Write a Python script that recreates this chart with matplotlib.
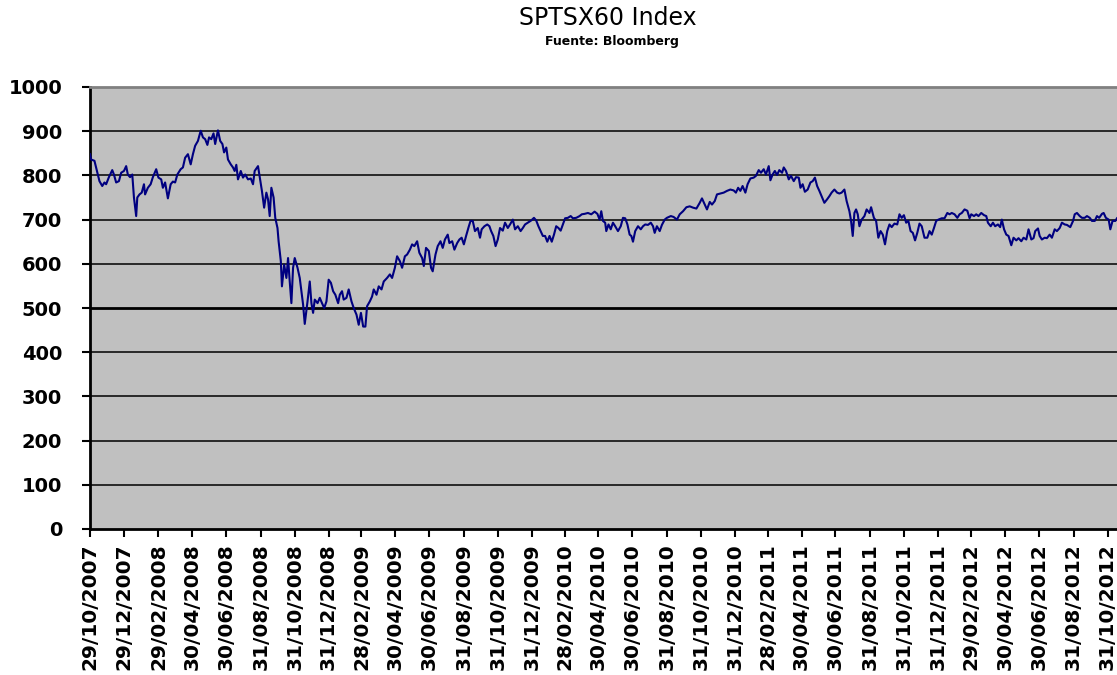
import matplotlib
matplotlib.use("Agg")
import matplotlib.pyplot as plt
import pandas as pd

# SPTSX60 closing levels (day offset from first session)
start_date = "2007-10-29"

day_offset = [
    0, 2, 8, 14, 17, 22, 26, 29, 34, 40, 43, 47, 52, 56, 61, 65, 68, 72, 76, 79,
    83, 85, 89, 93, 97, 99, 104, 109, 113, 119, 123, 128, 131, 135, 140, 145, 149, 153, 157, 163,
    167, 171, 176, 181, 185, 189, 194, 199, 203, 207, 211, 214, 218, 222, 225, 230, 234, 238, 241, 245,
    248, 253, 257, 260, 263, 266, 271, 275, 279, 284, 289, 293, 296, 302,
    309, 313, 317, 320, 323, 326, 330, 333, 337, 339, 343, 345, 349, 353, 356, 359, 362, 365, 368, 373,
    377, 380, 383, 386, 391, 395, 398, 401, 404, 409, 413, 417, 421, 425, 429, 433, 437, 441, 446, 449,
    453, 456, 461, 465, 470, 474, 479, 483, 487, 491, 495, 498, 503, 507, 510, 515, 519, 524, 528, 534,
    539, 543, 548, 552, 557, 561, 566, 570, 575, 579, 583, 588, 592, 597, 600, 604, 609, 613,
    616, 621, 625, 630, 634, 638, 643, 646, 651, 655, 660, 664, 668, 672, 676, 681, 684, 688, 692, 697,
    701, 704, 709, 714, 718, 721, 725, 729, 733, 737, 742, 746, 751, 755, 760, 764, 769, 774, 778, 782,
    787, 793, 798, 802, 806, 810, 814, 818, 822, 826, 830, 834, 838, 842, 846, 850, 854, 859, 864, 868,
    874, 880, 884, 889, 895, 901, 907, 912,
    916, 919, 922, 926, 928, 932, 936, 940, 944, 949, 954, 958, 962, 966, 970, 973, 976, 980, 985, 990,
    994, 998, 1003, 1008, 1012, 1015, 1019, 1024, 1028, 1033, 1037, 1044, 1049, 1055, 1060, 1066, 1072, 1078, 1084, 1090,
    1096, 1100, 1105, 1109, 1114, 1118, 1123, 1127, 1133, 1139, 1145, 1151, 1157, 1161, 1165, 1169, 1173, 1178, 1182, 1187,
    1193, 1197, 1202, 1206, 1211, 1215, 1220, 1223,
    1227, 1231, 1235, 1239, 1244, 1247, 1251, 1256, 1260, 1265, 1269, 1274, 1277, 1281, 1285, 1290, 1295, 1299, 1303, 1307,
    1311, 1315, 1320, 1325, 1329, 1333, 1338, 1343, 1347, 1351, 1356, 1360, 1365, 1368, 1371, 1374, 1377, 1380, 1383, 1387,
    1392, 1396, 1401, 1404, 1409, 1413, 1417, 1421, 1425, 1429, 1433, 1437, 1441, 1446, 1451, 1455, 1459, 1463, 1467, 1471,
    1475, 1479, 1483, 1487, 1491, 1495, 1500, 1505, 1509, 1513, 1517, 1521, 1525, 1531,
    1536, 1541, 1545, 1549, 1554, 1559, 1563, 1567, 1572, 1577, 1581, 1584, 1589, 1593, 1597, 1602, 1607, 1611, 1614, 1619,
    1623, 1627, 1632, 1636, 1639, 1643, 1647, 1651, 1656, 1660, 1665, 1669, 1674, 1678, 1683, 1687, 1692, 1696, 1699, 1704,
    1707, 1711, 1716, 1720, 1725, 1729, 1734, 1738, 1743, 1747, 1752, 1756, 1762, 1767, 1770, 1774, 1779, 1783, 1788, 1792,
    1797, 1801, 1806, 1810, 1814, 1819, 1822, 1826, 1831, 1834, 1838, 1843, 1846,
]

index_level = [
    848, 836, 833, 802, 787, 776, 784, 780, 796, 812, 802, 784, 787, 806, 810, 821, 802, 796, 802, 750,
    708, 750, 757, 761, 780, 757, 772, 780, 796, 814, 795, 791, 772, 784, 748, 780, 786, 784, 802, 814,
    818, 840, 848, 825, 848, 867, 878, 901, 886, 882, 869, 886, 882, 895, 871, 902, 878, 871, 852, 863,
    836, 825, 818, 810, 824, 791, 810, 795, 802, 791, 793, 780, 810, 821,
    765, 727, 761, 746, 708, 772, 750, 704, 681, 651, 606, 549, 598, 568, 613, 560, 511, 591, 613, 591,
    568, 538, 508, 464, 515, 560, 511, 489, 519, 511, 523, 511, 500, 515, 564, 557, 538, 530, 511, 530,
    538, 519, 523, 542, 515, 500, 485, 462, 489, 458, 458, 504, 515, 526, 542, 530, 549, 542, 560, 568,
    576, 568, 591, 617, 606, 591, 617, 621, 632, 644, 640, 651, 625, 613, 595, 636, 629, 591,
    583, 621, 640, 651, 636, 655, 666, 647, 651, 632, 647, 655, 659, 644, 663, 685, 697, 697, 674, 681,
    659, 678, 685, 689, 685, 674, 663, 640, 655, 681, 675, 693, 681, 689, 700, 678, 685, 674, 681, 689,
    693, 698, 704, 698, 685, 674, 663, 663, 650, 663, 650, 666, 685, 681, 675, 689, 703, 704, 708, 703,
    704, 708, 712, 713, 715, 712, 718, 713,
    700, 719, 697, 693, 674, 689, 678, 693, 685, 674, 685, 704, 703, 689, 666, 663, 650, 674, 685, 678,
    685, 689, 688, 693, 685, 670, 685, 674, 688, 700, 704, 708, 706, 700, 712, 719, 728, 730, 727, 725,
    738, 748, 734, 723, 740, 734, 742, 757, 759, 761, 765, 768, 766, 761, 772, 765, 776, 761, 780, 793,
    795, 799, 812, 806, 814, 802, 821, 789,
    802, 810, 801, 812, 806, 818, 810, 791, 799, 787, 796, 795, 772, 780, 763, 768, 784, 787, 795, 776,
    765, 753, 738, 746, 753, 761, 768, 761, 759, 761, 768, 742, 719, 697, 663, 715, 723, 712, 685, 700,
    708, 723, 715, 728, 704, 697, 659, 674, 666, 644, 674, 689, 683, 691, 689, 712, 704, 710, 693, 697,
    674, 670, 653, 670, 691, 685, 659, 659, 674, 666, 681, 697, 700, 703,
    703, 715, 712, 715, 712, 704, 712, 715, 723, 720, 703, 712, 708, 712, 708, 715, 710, 708, 693, 685,
    693, 685, 689, 683, 700, 678, 666, 663, 642, 659, 653, 658, 651, 659, 655, 678, 655, 658, 674, 680,
    663, 655, 659, 658, 666, 659, 678, 674, 681, 693, 689, 688, 683, 697, 712, 715, 708, 704, 704, 708,
    704, 697, 697, 708, 704, 713, 715, 704, 700, 678, 697, 697, 703,
]

tick_labels = [
    "29/10/2007", "29/12/2007", "29/02/2008", "30/04/2008", "30/06/2008", "31/08/2008",
    "31/10/2008", "31/12/2008", "28/02/2009", "30/04/2009", "30/06/2009", "31/08/2009",
    "31/10/2009", "31/12/2009", "28/02/2010", "30/04/2010", "30/06/2010", "31/08/2010",
    "31/10/2010", "31/12/2010", "28/02/2011", "30/04/2011", "30/06/2011", "31/08/2011",
    "31/10/2011", "31/12/2011", "29/02/2012", "30/04/2012", "30/06/2012", "31/08/2012",
    "31/10/2012",
]

y_ticks = list(range(0, 1001, 100))

start = pd.Timestamp(start_date)
dates = start + pd.to_timedelta(day_offset, unit="D")
tick_dates = pd.to_datetime(tick_labels, format="%d/%m/%Y")

plt.rcParams["font.family"] = ["DejaVu Sans"]

fig = plt.figure(figsize=(11.17, 6.75), dpi=100)
ax = fig.add_axes([90 / 1117, 146 / 675, 1027 / 1117, 442 / 675])
ax.set_facecolor("#c0c0c0")

# horizontal gridlines behind the series (the 500 line renders heavier in the original)
for y in y_ticks[1:-1]:
    ax.axhline(y, color="black", lw=2.0 if y == 500 else 1.1, zorder=1)

ax.plot(dates, index_level, color="#000080", lw=1.5, zorder=3)

ax.set_ylim(0, 1000)
ax.set_yticks(y_ticks)
ax.set_xlim(start, start + pd.Timedelta(days=1846))
ax.set_xticks(tick_dates)
ax.set_xticklabels(tick_labels, rotation=90, fontweight="bold")
for lab in ax.get_yticklabels():
    lab.set_fontweight("bold")

ax.tick_params(axis="both", direction="out", length=6, width=1.5, color="black")
ax.tick_params(axis="y", pad=14, labelsize=14)
ax.tick_params(axis="x", pad=4, labelsize=14.5)

ax.spines["left"].set_linewidth(2)
ax.spines["bottom"].set_linewidth(2)
ax.spines["top"].set_color("#808080")
ax.spines["top"].set_linewidth(2)
ax.spines["right"].set_visible(False)

fig.text(608 / 1117, 1 - 18 / 675, "SPTSX60 Index", ha="center", va="center", fontsize=17)
fig.text(612 / 1117, 1 - 42 / 675, "Fuente: Bloomberg", ha="center", va="center",
         fontsize=9, fontweight="bold")

fig.savefig("out.png", dpi=100)
